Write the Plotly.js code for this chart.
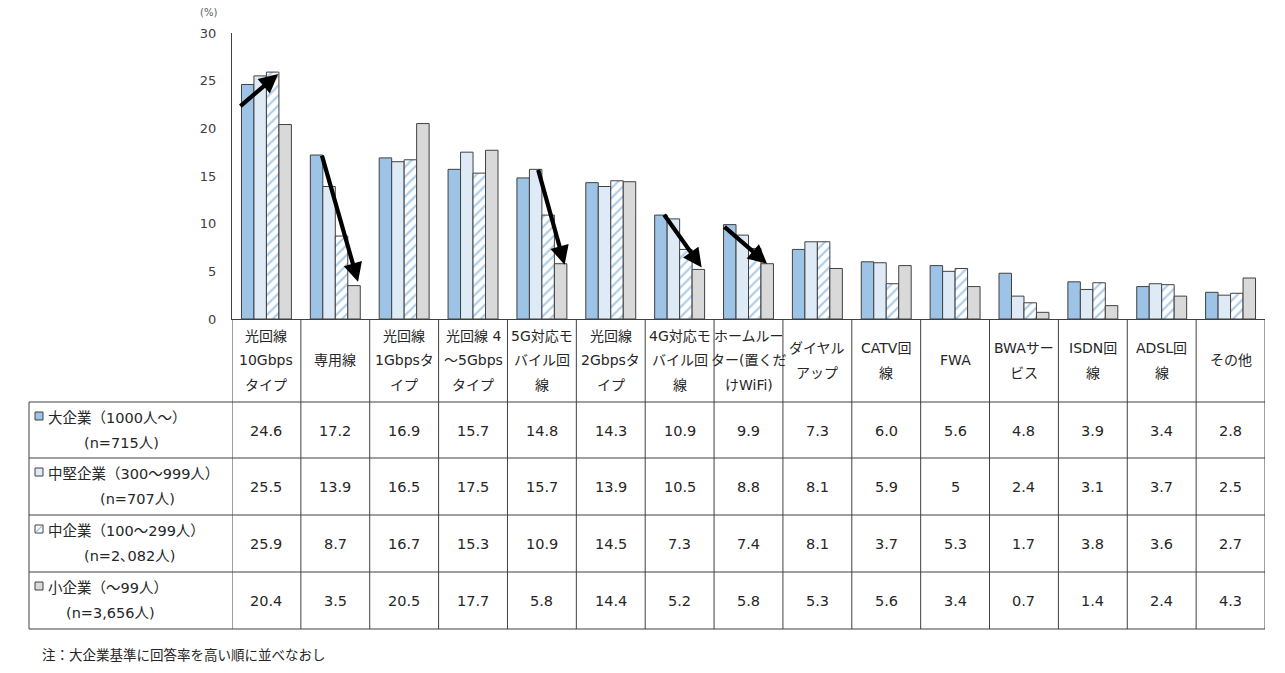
<!DOCTYPE html>
<html><head><meta charset="utf-8">
<script src="https://cdn.plot.ly/plotly-3.0.1.min.js"></script>
<style>html,body{margin:0;padding:0;background:#fff}</style>
</head><body>
<div id="chart" style="width:1285px;height:673px"></div>
<script>
// ---- data ----
const categories = [
  '光回線<br>10Gbps<br>タイプ', '専用線', '光回線<br>1Gbpsタ<br>イプ', '光回線 4<br>～5Gbps<br>タイプ',
  '5G対応モ<br>バイル回<br>線', '光回線<br>2Gbpsタ<br>イプ', '4G対応モ<br>バイル回<br>線',
  'ホームルー<br>ター(置くだ<br>けWiFi)', 'ダイヤル<br>アップ', 'CATV回<br>線', 'FWA',
  'BWAサー<br>ビス', 'ISDN回<br>線', 'ADSL回<br>線', 'その他'
];
const seriesNames = ['大企業（1000人～）', '中堅企業（300～999人）', '中企業（100～299人）', '小企業（～99人）'];
const seriesN = ['(n=715人)', '(n=707人)', '(n=2､082人)', '(n=3,656人)'];
const largeVals  = ['24.6','17.2','16.9','15.7','14.8','14.3','10.9','9.9','7.3','6.0','5.6','4.8','3.9','3.4','2.8'];
const midLVals   = ['25.5','13.9','16.5','17.5','15.7','13.9','10.5','8.8','8.1','5.9','5','2.4','3.1','3.7','2.5'];
const midVals    = ['25.9','8.7','16.7','15.3','10.9','14.5','7.3','7.4','8.1','3.7','5.3','1.7','3.8','3.6','2.7'];
const smallVals  = ['20.4','3.5','20.5','17.7','5.8','14.4','5.2','5.8','5.3','5.6','3.4','0.7','1.4','2.4','4.3'];
const allVals = [largeVals, midLVals, midVals, smallVals];
const yTicks = [0, 5, 10, 15, 20, 25, 30];
const footnote = '注：大企業基準に回答率を高い順に並べなおし';
// trend arrows: [tailX, tailY, headX, headY]
const arrows = [
  [-0.40, 22.2, 0.17, 25.7],
  [0.80, 17.3, 1.33, 3.9],
  [3.94, 15.8, 4.33, 5.7],
  [5.76, 11.1, 6.32, 5.4],
  [6.63, 9.8, 7.27, 5.8]
];

// ---- layout constants ----
const W = 1285, H = 673, L = 232, R = 20, T = 33, B = 354;
const plotW = W - L - R, plotH = H - T - B, base = H - B;
const px = v => (v - L) / plotW;
const py = v => (base - v) / plotH;
const fontFam = 'DejaVu Sans, "Noto Sans CJK JP", sans-serif';
const txt = '#262626', lineC = '#404040';
const fills = ['#9DC3E6', '#DEEBF7', '#FFFFFF', '#D9D9D9'];

const idx = categories.map((_, i) => i);
const traces = allVals.map((vals, s) => {
  const marker = { color: fills[s], line: { color: lineC, width: 1 } };
  if (s === 2) marker.pattern = { shape: '/', fgcolor: '#A9CBEA', bgcolor: '#FFFFFF', size: 7, solidity: 0.3 };
  return { type: 'bar', name: seriesNames[s], x: idx, y: vals.map(Number), marker, hoverinfo: 'skip' };
});

const shapes = [], annotations = [];
for (let k = 0; k <= categories.length; k++) {
  shapes.push({ type: 'line', xref: 'x', yref: 'paper', x0: k - 0.5, x1: k - 0.5, y0: py(319), y1: py(629), line: { color: lineC, width: 1 } });
}
shapes.push({ type: 'line', xref: 'paper', yref: 'paper', x0: px(29), x1: px(29), y0: py(402), y1: py(629), line: { color: lineC, width: 1 } });
[402, 458, 515, 572, 629].forEach(y => shapes.push({ type: 'line', xref: 'paper', yref: 'paper', x0: px(29), x1: 1, y0: py(y), y1: py(y), line: { color: lineC, width: 1 } }));

categories.forEach((c, i) => {
  const lines = c.split('<br>');
  lines.forEach((ln, j) => {
    const yc = 360.5 + (j - (lines.length - 1) / 2) * 24.5;
    annotations.push({ xref: 'x', yref: 'paper', x: i, y: py(yc), text: ln, showarrow: false, xanchor: 'center', yanchor: 'middle', font: { family: fontFam, size: 14, color: txt } });
  });
});
const rowTops = [402, 458, 515, 572];
const rowH = 56.5;
allVals.forEach((vals, s) => {
  vals.forEach((v, i) => {
    annotations.push({ xref: 'x', yref: 'paper', x: i, y: py(rowTops[s] + rowH / 2 + 1), text: v, showarrow: false, xanchor: 'center', yanchor: 'middle', font: { family: fontFam, size: 14.5, color: txt } });
  });
});
const nCenters = [121, 137, 129, 110];
seriesNames.forEach((n, s) => {
  const top = rowTops[s];
  shapes.push({ type: 'rect', xref: 'paper', yref: 'paper', x0: px(35), x1: px(43), y0: py(top + 10), y1: py(top + 18), fillcolor: fills[s], line: { color: lineC, width: 1 } });
  if (s === 2) shapes.push({ type: 'line', xref: 'paper', yref: 'paper', x0: px(36), x1: px(42), y0: py(top + 17), y1: py(top + 11), line: { color: '#9DC3E6', width: 1.2 } });
  annotations.push({ xref: 'paper', yref: 'paper', x: px(46), y: py(top + 16), text: n, showarrow: false, xanchor: 'left', yanchor: 'middle', font: { family: fontFam, size: 14.5, color: txt } });
  annotations.push({ xref: 'paper', yref: 'paper', x: px(nCenters[s]), y: py(top + 41), text: seriesN[s], showarrow: false, xanchor: 'center', yanchor: 'middle', font: { family: fontFam, size: 14.5, color: txt } });
});
annotations.push({ xref: 'paper', yref: 'paper', x: px(219), y: py(13), text: '(%)', showarrow: false, xanchor: 'right', yanchor: 'middle', font: { family: fontFam, size: 10, color: '#595959' } });
annotations.push({ xref: 'paper', yref: 'paper', x: px(40), y: py(655), text: footnote, showarrow: false, xanchor: 'left', yanchor: 'middle', font: { family: fontFam, size: 13.5, color: txt } });
arrows.forEach(a => annotations.push({ xref: 'x', yref: 'y', axref: 'x', ayref: 'y', x: a[2], y: a[3], ax: a[0], ay: a[1], text: '', showarrow: true, arrowhead: 2, arrowsize: 0.9, arrowwidth: 4.2, arrowcolor: '#000000', standoff: 0, startstandoff: 0 }));

const layout = {
  width: W, height: H,
  margin: { l: L, r: R, t: T, b: B, pad: 0 },
  paper_bgcolor: '#ffffff', plot_bgcolor: '#ffffff',
  showlegend: false,
  barmode: 'group', bargap: 0.275, bargroupgap: 0,
  font: { family: fontFam, color: txt },
  xaxis: { range: [-0.5, categories.length - 0.5], showticklabels: false, ticks: '', showgrid: false, zeroline: false, showline: true, linecolor: lineC, linewidth: 1, fixedrange: true },
  yaxis: { range: [0, 30], tickvals: yTicks, ticktext: yTicks.map(String), showgrid: false, zeroline: false, showline: true, linecolor: lineC, linewidth: 1, ticks: 'outside', ticklen: 12, tickcolor: 'rgba(0,0,0,0)', tickfont: { family: fontFam, size: 13, color: '#404040' }, fixedrange: true },
  shapes, annotations
};
Plotly.newPlot('chart', traces, layout, { displayModeBar: false, staticPlot: true });
</script>
</body></html>
